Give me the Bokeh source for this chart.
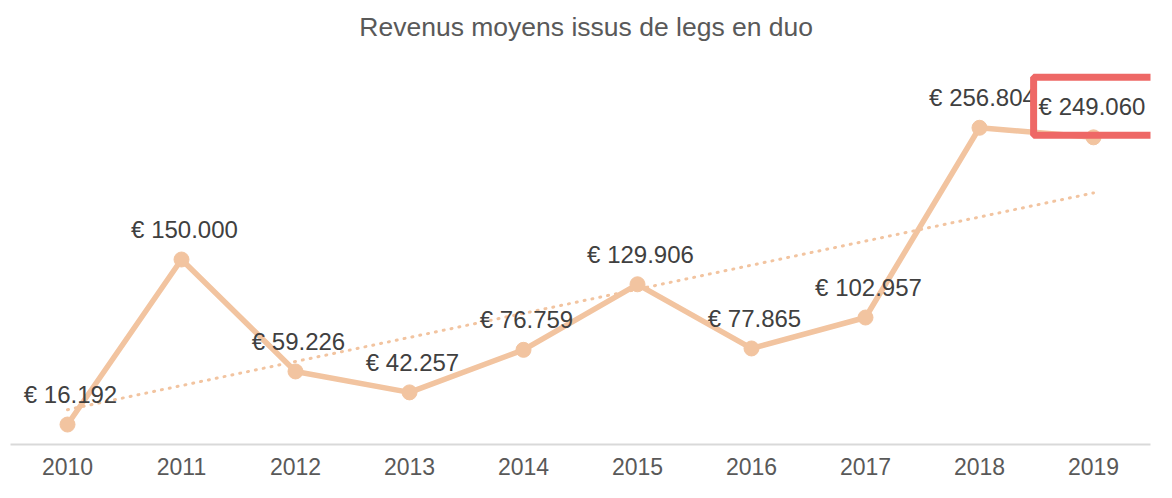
import numpy as np
from bokeh.plotting import figure
from bokeh.models import Range1d, FixedTicker, Label
from bokeh.core.properties import value
from bokeh.embed import file_html
from bokeh.resources import INLINE

# ---- data ----
years = [2010, 2011, 2012, 2013, 2014, 2015, 2016, 2017, 2018, 2019]
revenus = [16192, 150000, 59226, 42257, 76759, 129906, 77865, 102957, 256804, 249060]
labels = ["€ 16.192", "€ 150.000", "€ 59.226", "€ 42.257", "€ 76.759",
          "€ 129.906", "€ 77.865", "€ 102.957", "€ 256.804", "€ 249.060"]
tick_labels = [str(y) for y in years]
title_text = "Revenus moyens issus de legs en duo"

PEACH = "#F2C4A0"
FONT = "Liberation Sans"

W, H = 1156, 482
BOTTOM = 38
frame_h = H - BOTTOM
y_end = 300000 * frame_h / 370.0

p = figure(width=W, height=H, output_backend="svg", toolbar_location=None,
           x_range=Range1d(2009.5, 2019.5), y_range=Range1d(0, y_end),
           min_border_left=10, min_border_right=6, min_border_top=0,
           min_border_bottom=BOTTOM)
p.outline_line_color = None
p.xgrid.visible = False
p.ygrid.visible = False
p.yaxis.visible = False
p.background_fill_color = "white"
p.border_fill_color = "white"

ax = p.xaxis[0]
ax.ticker = FixedTicker(ticks=years)
ax.major_label_overrides = {y: t for y, t in zip(years, tick_labels)}
ax.major_label_text_font = FONT
ax.major_label_text_font_size = "23px"
ax.major_label_text_color = "#595959"
ax.major_label_standoff = 7
ax.axis_line_color = "#D9D9D9"
ax.axis_line_width = 2
ax.major_tick_line_color = None
ax.minor_tick_line_color = None

# trendline (linear fit)
xi = np.arange(len(years))
slope, intercept = np.polyfit(xi, np.array(revenus, dtype=float), 1)
trend = [intercept + slope * i for i in xi]
p.line(years, trend, line_color=PEACH, line_width=3, line_dash="1 7",
       line_cap="round")

# main series
p.line(years, revenus, line_color=PEACH, line_width=5.5, line_join="round")
p.scatter(years, revenus, size=15, fill_color=PEACH, line_color=PEACH)

# data labels (all but last)
p.text(years[:-1], revenus[:-1], text=labels[:-1], x_offset=3, y_offset=-30,
       text_align="center", text_baseline="middle",
       text_font=value(FONT), text_font_size="24px", text_color="#404040")

# highlighted last label
hl = Label(x=years[-1], y=revenus[-1], text=labels[-1], x_offset=7, y_offset=31,
           text_align="center", text_baseline="middle",
           text_font=FONT, text_font_size="24px", text_color="#404040",
           border_line_color="#EE6866", border_line_width=7,
           padding=dict(left=5, right=22, top=16, bottom=15))
p.add_layout(hl)

# title
p.text([2014.55], [y_end * (frame_h - 26) / frame_h], text=[title_text],
       text_align="center", text_baseline="middle",
       text_font=value(FONT), text_font_size="26.5px", text_color="#595959")

open("out.html", "w").write(file_html(p, INLINE))
